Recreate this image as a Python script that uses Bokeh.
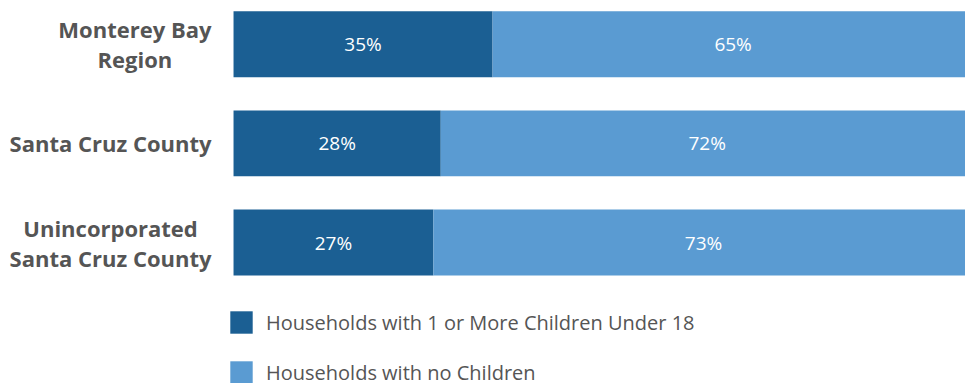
from bokeh.plotting import figure
from bokeh.models import ColumnDataSource, Range1d, Legend, LegendItem, Label
from bokeh.core.properties import value
from bokeh.embed import file_html
from bokeh.resources import INLINE

categories = ["Monterey Bay\nRegion", "Santa Cruz County", "Unincorporated\nSanta Cruz County"]
with_children = [35, 28, 27]
no_children = [65, 72, 73]
series_names = ["Households with 1 or More Children Under 18", "Households with no Children"]
colors = ["#1b5f93", "#5a9bd2"]

ypos = list(range(len(categories)))
src = ColumnDataSource(dict(y=ypos, a=with_children, b=no_children))

p = figure(width=965, height=383, output_backend="svg", toolbar_location=None,
           x_range=Range1d(-31.486, 98.9), y_range=Range1d(3.42, -0.44),
           min_border_left=0, min_border_right=0, min_border_top=0, min_border_bottom=0)
p.outline_line_color = None
p.xgrid.visible = False
p.ygrid.visible = False
p.xaxis.visible = False
p.yaxis.visible = False
p.background_fill_color = "white"
p.border_fill_color = "white"

rs = p.hbar_stack(["a", "b"], y="y", height=0.665, color=colors, source=src, line_color=None)

# value labels
lx, ly, lt = [], [], []
for i, (a, b) in enumerate(zip(with_children, no_children)):
    lx += [a / 2, a + b / 2]
    ly += [i, i]
    lt += [f"{a}%", f"{b}%"]
p.text(x=lx, y=ly, text=lt, text_color="white", text_font=value("Open Sans"),
       text_font_size="19px", text_align="center", text_baseline="middle")

# category labels: block anchored right, lines centered
for i, c in enumerate(categories):
    lab = Label(x=0, y=i, x_offset=-22, text=c, anchor="center_right",
                text_align="center", text_baseline="middle",
                text_font="Open Sans", text_font_style="bold",
                text_font_size="22px", text_color="#555555",
                text_line_height=1.0)
    p.add_layout(lab)

legend = Legend(items=[LegendItem(label=series_names[0], renderers=[rs[0]]),
                       LegendItem(label=series_names[1], renderers=[rs[1]])],
                location=(227, -3), orientation="vertical")
legend.glyph_width = 28
legend.glyph_height = 28
legend.label_height = 28
legend.spacing = 22
legend.padding = 0
legend.margin = 0
legend.label_standoff = 11
legend.border_line_color = None
legend.background_fill_alpha = 0
legend.label_text_font = "Open Sans"
legend.label_text_font_size = "20px"
legend.label_text_color = "#555555"
p.add_layout(legend, "center")

open("out.html", "w").write(file_html(p, INLINE))
